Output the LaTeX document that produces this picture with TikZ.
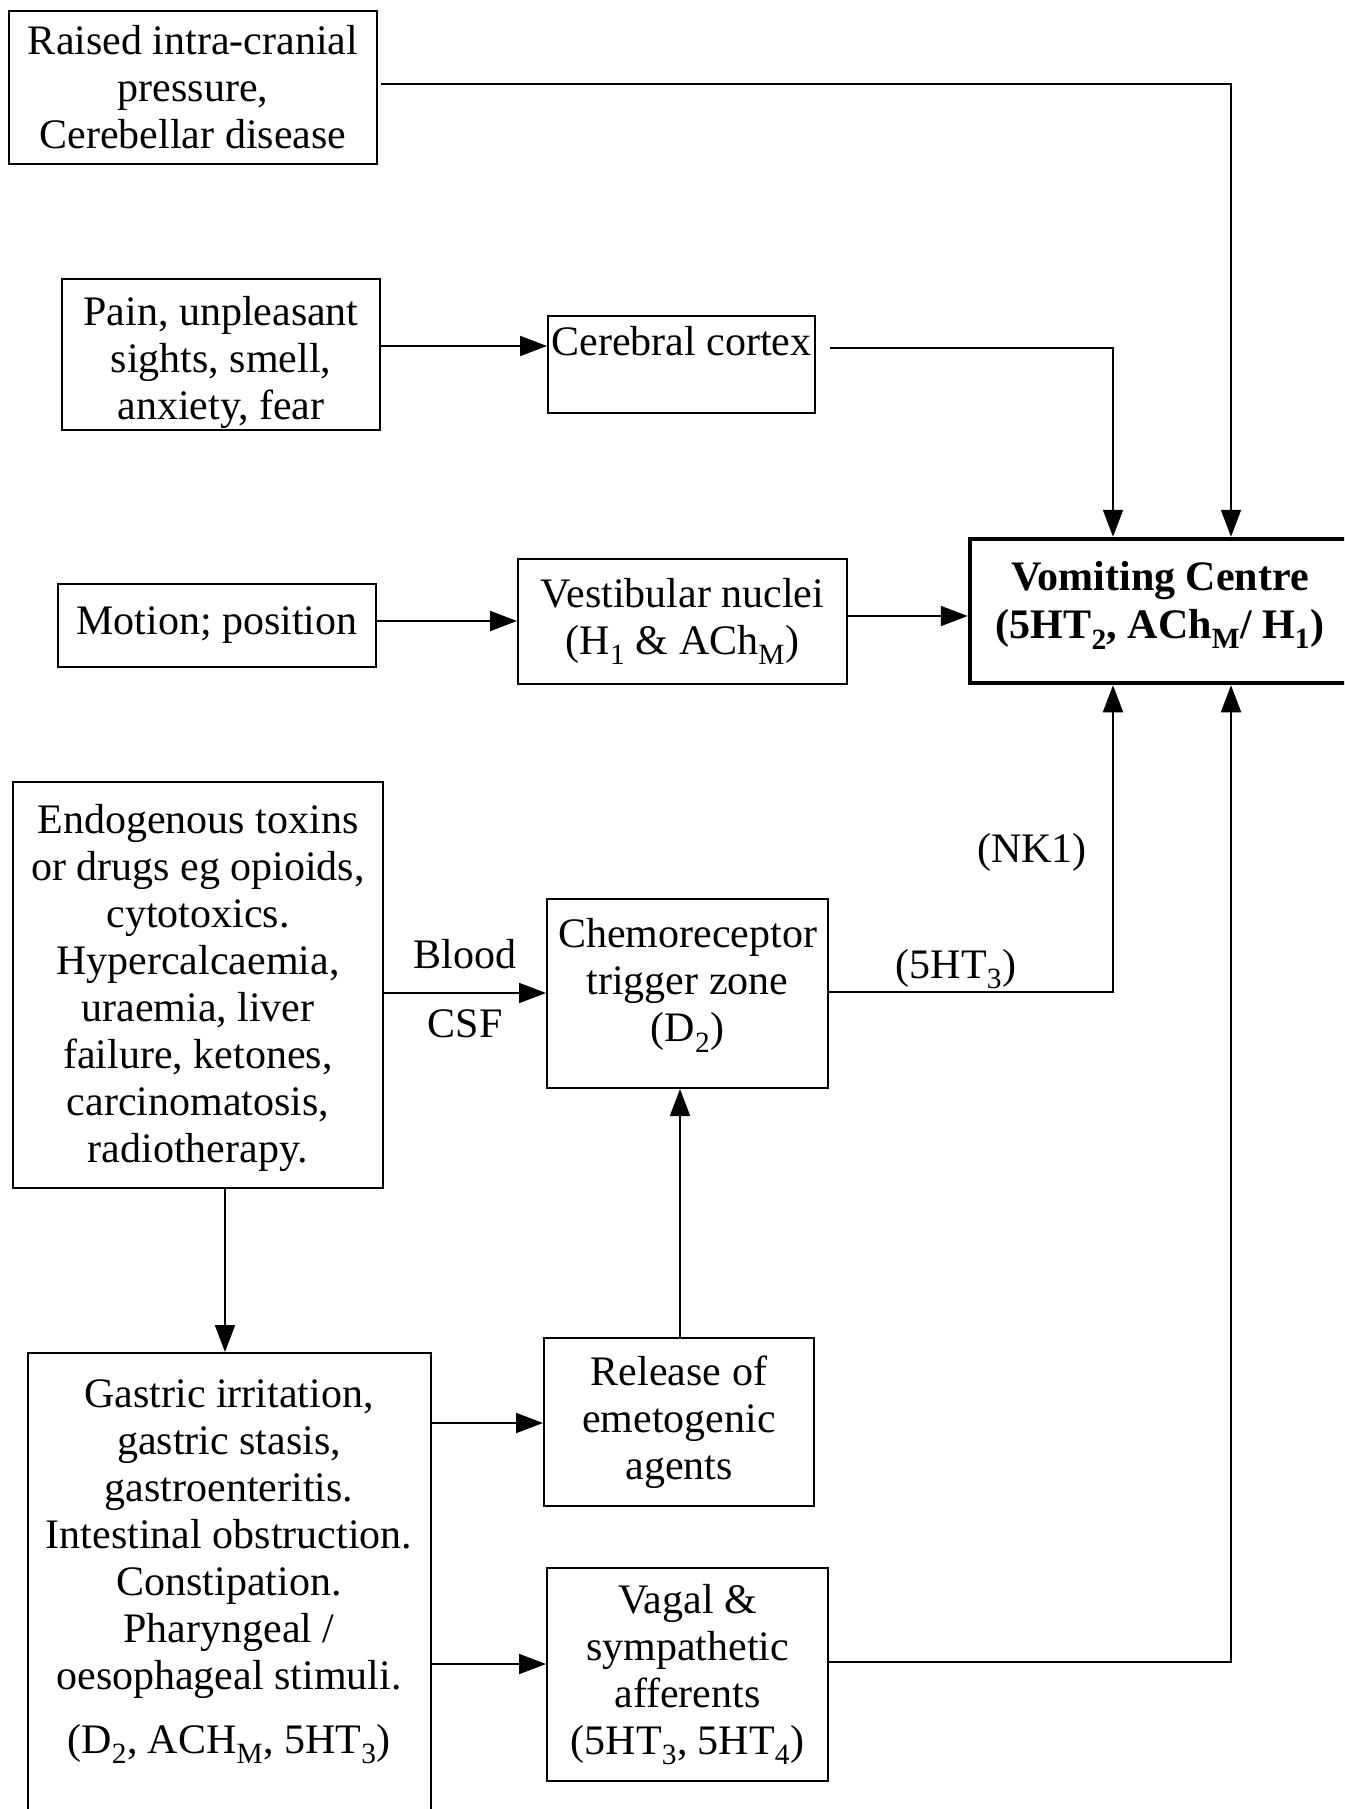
\documentclass[tikz,border=0pt]{standalone}
\usepackage{fontspec}
\setmainfont{Liberation Serif}
\usetikzlibrary{arrows.meta}
\begin{document}
\begin{tikzpicture}[x=1pt,y=-1pt,
  box/.style={draw, line width=2pt, inner sep=0pt, align=center, font=\fontsize{42}{47}\selectfont},
  lbl/.style={inner sep=0pt, align=center, font=\fontsize{42}{47}\selectfont},
  arr/.style={line width=2pt, -{Triangle[length=27pt,width=20pt]}}]
\path[use as bounding box, clip] (0,0) rectangle (1344,1809);
\fill[white] (0,0) rectangle (1344,1809);

% boxes
\node[box, minimum width=368pt, minimum height=153pt] (raised) at (193,87.5)
  {Raised intra-cranial\\pressure,\\Cerebellar disease};
\node[box, minimum width=318pt, minimum height=151pt] (pain) at (221,354.5) {};
\begin{scope}
\clip (pain.south west) rectangle (pain.north east);
\node[lbl] (paintext) at (221,362)
  {Pain, unpleasant\\sights, smell,\\anxiety, fear};
\end{scope}
\node[box, minimum width=267pt, minimum height=97pt] (cerebral) at (681.5,364.5) {};
\node[lbl, anchor=base] (cerebraltext) at (681.5,355) {Cerebral cortex};
\node[box, minimum width=318pt, minimum height=83pt] (motion) at (217,625.5)
  {Motion; position};
\node[box, minimum width=329pt, minimum height=125pt] (vest) at (682.5,621.5)
  {Vestibular nuclei\\(H\textsubscript{1} \& ACh\textsubscript{M})};
\node[box, line width=4.5pt, minimum width=380pt, minimum height=144pt] (vc) at (1160,611) {};
\node[lbl, font=\fontsize{42}{48}\selectfont\bfseries] (vctext) at (1160,605)
  {Vomiting Centre\\(5HT\textsubscript{2}, ACh\textsubscript{M}/ H\textsubscript{1})};
\node[box, minimum width=370pt, minimum height=406pt] (endo) at (198,985) {};
\node[lbl] (endotext) at (198,988)
  {Endogenous toxins\\or drugs eg opioids,\\cytotoxics.\\Hypercalcaemia,\\uraemia, liver\\failure, ketones,\\carcinomatosis,\\radiotherapy.};
\node[box, minimum width=281pt, minimum height=189pt] (ctz) at (687.5,993.5) {};
\node[lbl] (ctztext) at (687.5,985)
  {Chemoreceptor\\trigger zone\\(D\textsubscript{2})};
\node[box, minimum width=270pt, minimum height=168pt] (release) at (679,1422)
  {Release of\\emetogenic\\agents};
\node[box, minimum width=281pt, minimum height=213pt] (vagal) at (687.5,1674.5)
  {Vagal \&\\sympathetic\\afferents\\(5HT\textsubscript{3}, 5HT\textsubscript{4})};
\node[box, minimum width=403.5pt, minimum height=477pt] (gastric) at (229.25,1591.5) {};
\node[lbl] (gastrictext) at (229,1539)
  {Gastric irritation,\\gastric stasis,\\gastroenteritis.\\Intestinal obstruction.\\Constipation.\\Pharyngeal /\\oesophageal stimuli.};
\node[lbl, anchor=base] (gastricrec) at (229,1753)
  {(D\textsubscript{2}, ACH\textsubscript{M}, 5HT\textsubscript{3})};

% labels
\node[lbl, anchor=base] (blood) at (465,968) {Blood};
\node[lbl, anchor=base] (csf) at (465,1037) {CSF};
\node[lbl, anchor=base] (fiveht) at (956,978) {(5HT\textsubscript{3})};
\node[lbl, anchor=base] (nk) at (1032,862) {(NK1)};

% x positions of the entries into the vomiting centre
\coordinate (xA) at (1113,0);
\coordinate (xB) at (1231,0);
\coordinate (xE) at (225,0);
\coordinate (xR) at (680,0);

% connectors
\draw[arr, shorten <=3pt] (raised.east |- 0,84) -| (xB |- vc.north);
\draw[arr] (pain.east |- 0,346) -- (cerebral.west |- 0,346);
\draw[arr, shorten <=14pt] (cerebral.east |- 0,348) -| (xA |- vc.north);
\draw[arr] (motion.east |- 0,621) -- (vest.west |- 0,621);
\draw[arr] (vest.east |- 0,616) -- (vc.west |- 0,616);
\draw[arr] (endo.east |- 0,993) -- (ctz.west |- 0,993);
\draw[arr] (ctz.east |- 0,992) -| (xA |- vc.south);
\draw[arr] (vagal.east |- 0,1662) -| (xB |- vc.south);
\draw[arr] (xE |- endo.south) -- (xE |- gastric.north);
\draw[arr] (xR |- release.north) -- (xR |- ctz.south);
\draw[arr] (gastric.east |- 0,1423) -- (release.west |- 0,1423);
\draw[arr] (gastric.east |- 0,1664) -- (vagal.west |- 0,1664);
\end{tikzpicture}
\end{document}
